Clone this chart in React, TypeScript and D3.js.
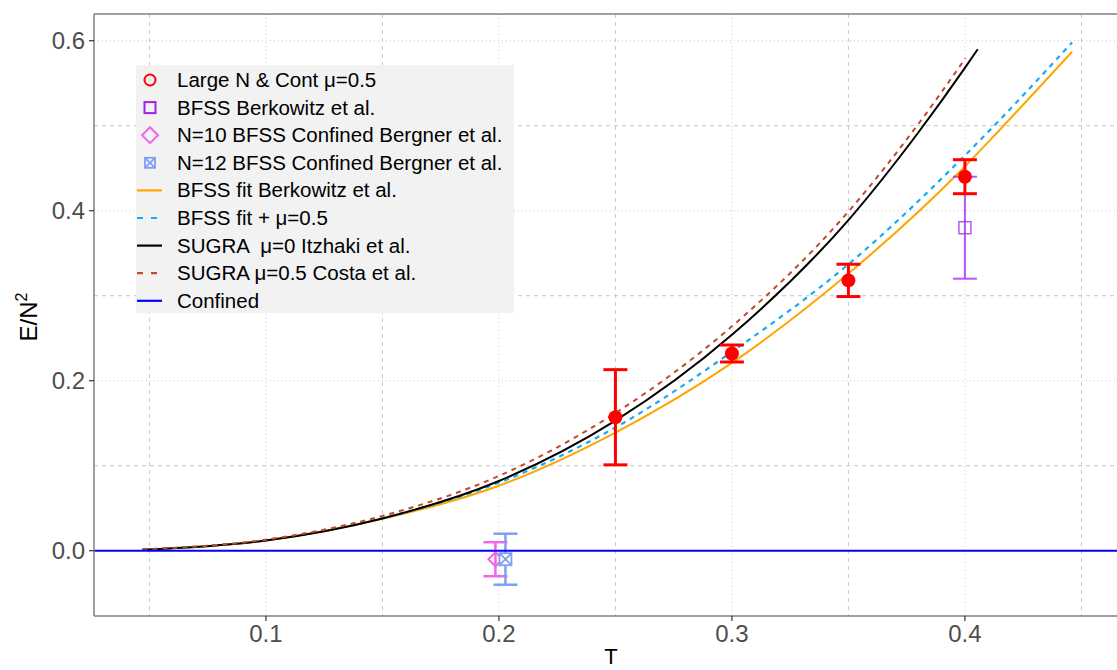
import React from 'react';
import * as d3 from 'd3';

// curve samples (T, E/N^2)
const fitT = [0.047, 0.1, 0.15, 0.2, 0.25, 0.3, 0.35, 0.4, 0.415, 0.446];
const fitBerkowitz = [0.001, 0.012, 0.0375, 0.0765, 0.139, 0.221, 0.326, 0.452, 0.4953, 0.587];
const fitMu = [0.0015, 0.0125, 0.0385, 0.08, 0.145, 0.234, 0.337, 0.465, 0.507, 0.598];
const sugraT = [0.047, 0.1, 0.15, 0.2, 0.25, 0.3, 0.35, 0.38, 0.4, 0.4055];
const sugraMu0 = [0.001, 0.012, 0.038, 0.082, 0.153, 0.254, 0.389, 0.492, 0.568, 0.59];
const costaT = [0.047, 0.1, 0.15, 0.2, 0.25, 0.3, 0.35, 0.38, 0.4003];
const sugraMu05 = [0.0015, 0.013, 0.041, 0.088, 0.162, 0.264, 0.399, 0.502, 0.5796];

// data points with error bars
const largeNT = [0.25, 0.3, 0.35, 0.4];
const largeNE = [0.157, 0.232, 0.318, 0.44];
const largeNLo = [0.101, 0.222, 0.299, 0.42];
const largeNHi = [0.213, 0.242, 0.337, 0.46];
const berkT = [0.4];
const berkE = [0.38];
const berkLo = [0.32];
const berkHi = [0.44];
const n10T = [0.1985];
const n10E = [-0.01];
const n10Lo = [-0.03];
const n10Hi = [0.01];
const n12T = [0.2028];
const n12E = [-0.01];
const n12Lo = [-0.04];
const n12Hi = [0.02];

const xTicks = [0.1, 0.2, 0.3, 0.4];
const xMinor = [0.05, 0.15, 0.25, 0.35, 0.45];
const yTicks = [0.0, 0.2, 0.4, 0.6];
const yMinor = [0.1, 0.3, 0.5];

const legendLabels = [
  'Large N & Cont \u03bc=0.5',
  'BFSS Berkowitz et al.',
  'N=10 BFSS Confined Bergner et al.',
  'N=12 BFSS Confined Bergner et al.',
  'BFSS fit Berkowitz et al.',
  'BFSS fit + \u03bc=0.5',
  'SUGRA  \u03bc=0 Itzhaki et al.',
  'SUGRA \u03bc=0.5 Costa et al.',
  'Confined',
];

const RED = '#ff0000';
const PURPLE = '#a020f0';
const PINK = '#f066e6';
const LBLUE = '#7f9ef5';
const ORANGE = '#ffa500';
const SKY = '#18aaf0';
const BROWN = '#c24a2b';
const BLUE = '#0000ff';

const W = 1117, H = 670;
const left = 94, right = 1128, top = 14, bottom = 616;
const font = '"Liberation Sans", Arial, Helvetica, sans-serif';

const App = () => {
  const x = d3.scaleLinear().domain([0.0262, 0.47]).range([left, right]);
  const y = d3.scaleLinear().domain([-0.0768, 0.6314]).range([bottom, top]);

  const line = (ts: number[], es: number[]) =>
    d3.line<number>().x((d, i) => x(ts[i])).y((d) => y(d)).curve(d3.curveMonotoneX)(es) || '';

  const errBar = (t: number, lo: number, hi: number, color: string, sw: number, op = 1) => (
    <g stroke={color} strokeWidth={sw} opacity={op}>
      <line x1={x(t)} x2={x(t)} y1={y(lo)} y2={y(hi)} />
      <line x1={x(t) - 12} x2={x(t) + 12} y1={y(lo)} y2={y(lo)} />
      <line x1={x(t) - 12} x2={x(t) + 12} y1={y(hi)} y2={y(hi)} />
    </g>
  );

  const legX = 150, legY0 = 80, legDy = 27.6;

  const legendKey = (i: number) => {
    const cy = legY0 + i * legDy;
    switch (i) {
      case 0:
        return <circle cx={legX} cy={cy} r={5.5} fill="none" stroke={RED} strokeWidth={2} />;
      case 1:
        return <rect x={legX - 5.5} y={cy - 5.5} width={11} height={11} fill="none" stroke={PURPLE} strokeWidth={2} />;
      case 2:
        return <path d={`M${legX - 8},${cy} L${legX},${cy - 8} L${legX + 8},${cy} L${legX},${cy + 8} Z`} fill="none" stroke={PINK} strokeWidth={2} />;
      case 3:
        return (
          <g stroke={LBLUE} strokeWidth={1.8} fill="none">
            <rect x={legX - 5} y={cy - 5} width={10} height={10} />
            <path d={`M${legX - 5},${cy - 5} L${legX + 5},${cy + 5} M${legX + 5},${cy - 5} L${legX - 5},${cy + 5}`} />
          </g>
        );
      default: {
        const c = [ORANGE, SKY, '#000000', BROWN, BLUE][i - 4];
        const dash = i === 5 || i === 7 ? '6 8' : undefined;
        return <line x1={137} x2={162} y1={cy} y2={cy} stroke={c} strokeWidth={2.2} strokeDasharray={dash} />;
      }
    }
  };

  return (
    <svg width={W} height={H} style={{ position: 'absolute', left: 0, top: 0, background: '#fff' }} fontFamily={font}>
      <defs>
        <clipPath id="panel">
          <rect x={left} y={top} width={right - left} height={bottom - top} />
        </clipPath>
      </defs>

      {/* grid */}
      <g stroke="#c8c8c8" strokeWidth={1}>
        {xMinor.map((t) => (
          <line key={'xm' + t} x1={x(t)} x2={x(t)} y1={top} y2={bottom} strokeDasharray="4 4" />
        ))}
        {yMinor.map((v) => (
          <line key={'ym' + v} x1={left} x2={right} y1={y(v)} y2={y(v)} strokeDasharray="4 4" />
        ))}
        {xTicks.map((t) => (
          <line key={'xg' + t} x1={x(t)} x2={x(t)} y1={top} y2={bottom} strokeDasharray="1 3" />
        ))}
        {yTicks.map((v) => (
          <line key={'yg' + v} x1={left} x2={right} y1={y(v)} y2={y(v)} strokeDasharray="1 3" />
        ))}
      </g>

      {/* curves */}
      <g clipPath="url(#panel)" fill="none" strokeWidth={2}>
        <path d={line(fitT, fitBerkowitz)} stroke={ORANGE} />
        <path d={line(fitT, fitMu)} stroke={SKY} strokeWidth={2.2} strokeDasharray="5 5" />
        <path d={line(sugraT, sugraMu0)} stroke="#000000" />
        <path d={line(costaT, sugraMu05)} stroke={BROWN} strokeDasharray="5 5" />
      </g>

      {/* points */}
      {berkT.map((t, i) => (
        <g key={'b' + i}>
          {errBar(t, berkLo[i], berkHi[i], PURPLE, 2, 0.75)}
          <rect x={x(t) - 6} y={y(berkE[i]) - 6} width={12} height={12} fill="none" stroke={PURPLE} strokeOpacity={0.75} strokeWidth={1.5} />
        </g>
      ))}
      {n10T.map((t, i) => (
        <g key={'n10' + i}>
          {errBar(t, n10Lo[i], n10Hi[i], PINK, 2.5)}
          <path
            d={`M${x(t) - 7},${y(n10E[i])} L${x(t)},${y(n10E[i]) - 7} L${x(t) + 7},${y(n10E[i])} L${x(t)},${y(n10E[i]) + 7} Z`}
            fill="none" stroke={PINK} strokeWidth={2} />
        </g>
      ))}
      {n12T.map((t, i) => {
        const cx = x(t), cy = y(n12E[i]);
        return (
          <g key={'n12' + i}>
            {errBar(t, n12Lo[i], n12Hi[i], LBLUE, 2.5)}
            <g stroke={LBLUE} strokeWidth={1.8} fill="none">
              <rect x={cx - 6} y={cy - 6} width={12} height={12} fill="#fff" />
              <path d={`M${cx - 6},${cy - 6} L${cx + 6},${cy + 6} M${cx + 6},${cy - 6} L${cx - 6},${cy + 6}`} />
            </g>
          </g>
        );
      })}
      {largeNT.map((t, i) => (
        <g key={'l' + i}>
          {errBar(t, largeNLo[i], largeNHi[i], RED, 3)}
          <circle cx={x(t)} cy={y(largeNE[i])} r={7} fill={RED} />
        </g>
      ))}

      {/* confined */}
      <line x1={left} x2={right} y1={y(0)} y2={y(0)} stroke={BLUE} strokeWidth={2} />

      {/* panel border */}
      <g stroke="#808080" strokeWidth={1.5} fill="none">
        <line x1={left} x2={left} y1={top} y2={bottom} />
        <line x1={left} x2={right} y1={top} y2={top} />
        <line x1={left} x2={right} y1={bottom} y2={bottom} />
      </g>

      {/* axes */}
      <g fill="#4d4d4d" fontSize={24}>
        {xTicks.map((t) => (
          <g key={'xt' + t}>
            <line x1={x(t)} x2={x(t)} y1={bottom} y2={bottom + 5} stroke="#333" strokeWidth={1.2} />
            <text x={x(t)} y={bottom + 26} textAnchor="middle">{d3.format('.1f')(t)}</text>
          </g>
        ))}
        {yTicks.map((v) => (
          <g key={'yt' + v}>
            <line x1={left - 5} x2={left} y1={y(v)} y2={y(v)} stroke="#333" strokeWidth={1.2} />
            <text x={left - 9} y={y(v) + 8.5} textAnchor="end">{d3.format('.1f')(v)}</text>
          </g>
        ))}
      </g>
      <text x={(left + right) / 2} y={664} textAnchor="middle" fontSize={22} fill="#000">T</text>
      <text transform={`translate(37, ${(top + bottom) / 2 + 2}) rotate(-90)`} textAnchor="middle" fontSize={24} fill="#000">
        E/N<tspan fontSize={16} dy={-10}>2</tspan>
      </text>

      {/* legend */}
      <rect x={136} y={65} width={378} height={248} fill="#f2f2f2" />
      {legendLabels.map((lab, i) => (
        <g key={'lg' + i}>
          {legendKey(i)}
          <text x={177} y={legY0 + i * legDy + 7} fontSize={20.5} fill="#000" style={{ whiteSpace: 'pre' }}>{lab}</text>
        </g>
      ))}
    </svg>
  );
};

export default App;
